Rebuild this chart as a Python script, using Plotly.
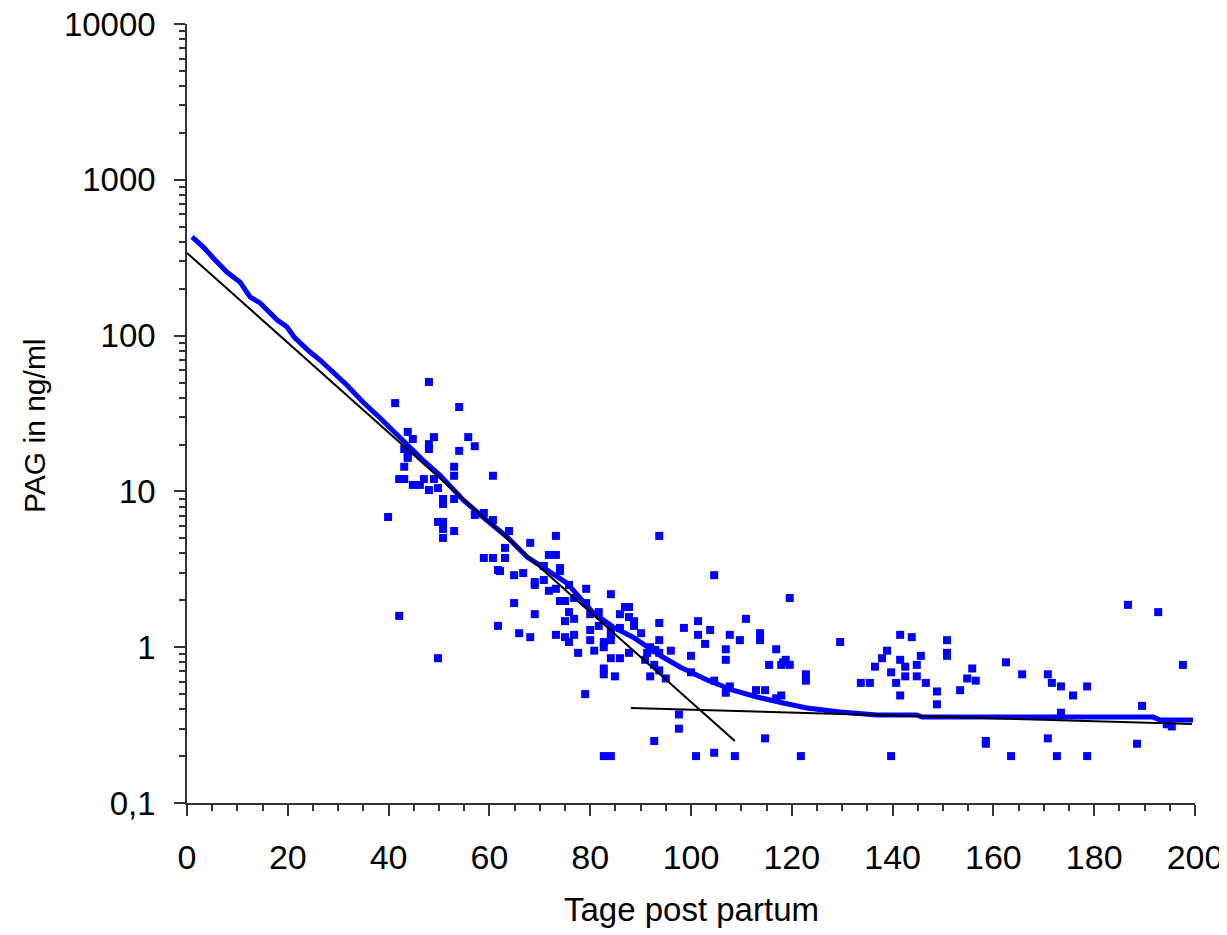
import plotly.graph_objects as go

# --- Messpunkte (Tage post partum, PAG ng/ml) ---
tage = [39.9, 41.3, 42.1, 42.1, 43.1, 43.1, 43.1, 43.8, 43.8, 43.8, 44.8, 44.8, 46.2, 47.0,
        48.0, 48.0, 48.0, 48.0, 49.0, 49.0, 49.8, 49.8, 49.8, 50.8, 50.8, 50.8, 50.8, 50.8,
        53.0, 53.0, 53.0, 53.0, 54.0, 54.0, 55.8, 57.1, 57.1, 58.9, 58.9, 60.7, 60.7, 60.7,
        61.7, 61.7, 62.1, 63.1, 63.1, 63.9, 64.9, 64.9, 65.9, 66.7, 68.1, 68.1, 69.0, 69.0,
        69.0, 70.8, 70.8, 71.8, 71.8, 73.2, 73.2, 73.2, 73.2, 74.0, 74.0, 74.0, 75.0, 75.0,
        75.0, 75.8, 75.8, 75.8, 76.8, 76.8, 76.8, 77.6, 79.0, 79.2, 79.2, 80.0, 80.0, 80.0,
        80.8, 81.7, 81.7, 82.7, 82.7, 82.7, 82.7, 82.7, 84.1, 84.1, 84.1, 84.1, 84.1, 84.1,
        84.9, 85.9, 85.9, 85.9, 86.9, 87.7, 87.7, 87.7, 88.7, 88.7, 90.1, 90.9, 91.3, 91.9,
        92.9, 93.7, 91.9, 92.7, 92.7, 93.7, 93.7, 93.7, 93.7, 95.0, 96.0, 97.6, 97.6, 98.6,
        100.0, 100.0, 101.0, 101.4, 101.4, 102.8, 103.8, 104.6, 104.6, 104.6, 106.9, 106.9,
        106.9, 107.7, 107.7, 108.7, 109.7, 110.9, 112.9, 113.7, 113.7, 114.7, 114.7, 115.5,
        116.9, 116.9, 117.9, 117.9, 118.3, 118.8, 119.6, 119.6, 121.8, 122.8, 122.8, 129.6,
        133.7, 135.5, 136.5, 137.9, 138.9, 139.7, 139.7, 140.7, 141.5, 141.5, 141.5, 142.5,
        142.5, 143.8, 144.8, 144.8, 145.6, 146.6, 148.8, 148.8, 150.8, 150.8, 150.8, 153.4,
        154.8, 155.8, 156.5, 158.5, 158.5, 162.5, 163.5, 165.7, 170.8, 170.8, 171.6, 172.6,
        173.4, 173.4, 175.8, 178.6, 178.6, 186.7, 188.5, 189.5, 192.7, 194.4, 195.4, 197.6]
pag = [6.85, 36.9, 1.59, 12.0, 18.7, 14.4, 12.0, 24.1, 16.9, 16.4, 21.7, 11.0, 11.0, 12.0,
       50.4, 20.1, 18.7, 10.2, 22.3, 12.0, 10.5, 6.37, 0.85, 8.94, 8.30, 6.37, 5.74, 5.03,
       14.4, 12.6, 8.94, 5.57, 34.8, 18.2, 22.3, 19.5, 7.06, 7.27, 3.74, 12.6, 6.55, 3.74,
       3.13, 1.37, 3.08, 4.34, 3.74, 5.57, 2.90, 1.92, 1.23, 2.99, 4.67, 1.16, 2.62, 2.51,
       1.63, 3.32, 2.70, 3.91, 2.30, 5.18, 3.91, 2.37, 1.20, 3.22, 3.08, 1.98, 1.98, 1.47,
       1.16, 2.51, 1.68, 1.08, 2.07, 1.52, 1.20, 0.92, 0.50, 2.37, 1.92, 1.63, 1.29, 1.11,
       0.95, 1.68, 1.37, 1.08, 1.00, 0.73, 0.67, 0.2, 2.19, 1.29, 1.20, 1.11, 0.85, 0.2,
       0.65, 1.63, 1.33, 0.85, 1.81, 1.81, 1.56, 0.92, 1.47, 1.37, 1.23, 0.83, 0.92, 1.00,
       0.96, 0.92, 0.65, 0.77, 0.25, 5.18, 1.43, 1.11, 0.71, 0.63, 0.95, 0.37, 0.30, 1.33,
       0.88, 0.69, 0.2, 1.47, 1.20, 1.05, 1.29, 2.90, 0.61, 0.21, 0.97, 0.83,
       0.51, 1.20, 0.56, 0.2, 1.11, 1.52, 0.53, 1.23, 1.11, 0.53, 0.26, 0.77,
       0.97, 0.47, 0.77, 0.49, 0.80, 0.83, 2.07, 0.77, 0.2, 0.67, 0.61, 1.08,
       0.59, 0.59, 0.75, 0.85, 0.95, 0.69, 0.2, 0.59, 1.20, 0.83, 0.49, 0.75,
       0.65, 1.16, 0.77, 0.65, 0.88, 0.59, 0.52, 0.43, 1.11, 0.92, 0.88, 0.53,
       0.63, 0.73, 0.61, 0.25, 0.24, 0.80, 0.2, 0.67, 0.67, 0.26, 0.59, 0.2,
       0.56, 0.38, 0.49, 0.56, 0.2, 1.87, 0.24, 0.42, 1.68, 0.32, 0.31, 0.77]

# --- geglaetteter Verlauf (blau) ---
tage_kurve = [1.0, 3.2, 5.2, 7.9, 10.5, 12.5, 14.5, 17.9, 19.8, 21.4, 24.4, 26.4, 31.7, 34.9,
              38.3, 43.7, 46.8, 50.2, 54.8, 58.7, 63.5, 67.5, 75.4, 80.6, 84.5, 88.5, 91.3,
              94.4, 97.8, 101.2, 103.2, 108.3, 113.1, 118.3, 123.0, 129.6, 136.9, 144.8,
              145.8, 191.7, 193.1, 199.6]
pag_kurve = [430, 371, 315, 256, 221, 177, 162, 126, 114, 96.6, 78.5, 69.7, 48.2, 37.5,
             29.6, 19.9, 15.9, 12.7, 8.81, 6.85, 5.10, 3.79, 2.58, 1.66, 1.35, 1.16, 1.00,
             0.865, 0.746, 0.663, 0.616, 0.531, 0.479, 0.438, 0.407, 0.384, 0.367, 0.367,
             0.356, 0.356, 0.341, 0.341]

# --- Regressionsgeraden (schwarz) ---
tage_reg1 = [0, 108.7]
pag_reg1 = [339, 0.25]
tage_reg2 = [88.1, 199.4]
pag_reg2 = [0.407, 0.321]

y_ticks = [0.1, 1, 10, 100, 1000, 10000]
y_ticktext = ['0,1', '1', '10', '100', '1000', '10000']
y_minor = [m * 10 ** k for k in range(-1, 4) for m in range(2, 10)]

schrift = 'Liberation Sans, Arial, sans-serif'

fig = go.Figure()

fig.add_trace(go.Scatter(x=tage, y=pag, mode='markers',
                         marker=dict(symbol='square', size=8, color='#0000FF'),
                         showlegend=False))

fig.add_trace(go.Scatter(x=tage_kurve, y=pag_kurve, mode='lines',
                         line=dict(color='#0000FF', width=5),
                         showlegend=False))

fig.add_trace(go.Scatter(x=tage_reg1, y=pag_reg1, mode='lines',
                         line=dict(color='black', width=2), showlegend=False))
fig.add_trace(go.Scatter(x=tage_reg2, y=pag_reg2, mode='lines',
                         line=dict(color='black', width=2), showlegend=False))

# Seite hat 8px body-Rand -> Raender entsprechend kleiner
fig.update_layout(
    width=1227, height=935,
    margin=dict(l=179, r=40, t=16, b=140),
    plot_bgcolor='white', paper_bgcolor='white',
    font=dict(family=schrift, color='black', size=30),
)

fig.update_xaxes(
    range=[0, 200], tickvals=list(range(0, 201, 20)),
    showgrid=False, zeroline=False, automargin=False,
    showline=True, linecolor='#333333', linewidth=1.5,
    ticks='outside', ticklen=11, tickcolor='#333333', tickwidth=1.5,
    ticklabelstandoff=12, ticklabeloverflow='allow',
    minor=dict(dtick=5, ticks='outside', ticklen=6, tickcolor='#333333', showgrid=False),
    tickfont=dict(size=34),
)

fig.update_yaxes(
    type='log', range=[-1, 4],
    tickvals=y_ticks, ticktext=y_ticktext,
    showgrid=False, zeroline=False, automargin=False,
    showline=True, linecolor='#333333', linewidth=1.5,
    ticks='outside', ticklen=11, tickcolor='#333333', tickwidth=1.5,
    ticklabelstandoff=12, ticklabeloverflow='allow',
    minor=dict(tickvals=y_minor, ticks='outside', ticklen=6, tickcolor='#333333',
               showgrid=False),
    tickfont=dict(size=33),
)

# Achsentitel als Annotationen
fig.add_annotation(text='Tage post partum', xref='paper', yref='paper',
                   x=0.5, y=-0.137, xanchor='center', yanchor='middle',
                   showarrow=False, font=dict(size=33))
fig.add_annotation(text='PAG in ng/ml', xref='paper', yref='paper',
                   x=-0.152, y=0.485, xanchor='center', yanchor='middle',
                   textangle=-90, showarrow=False, font=dict(size=30))

fig.write_html('out.html')
